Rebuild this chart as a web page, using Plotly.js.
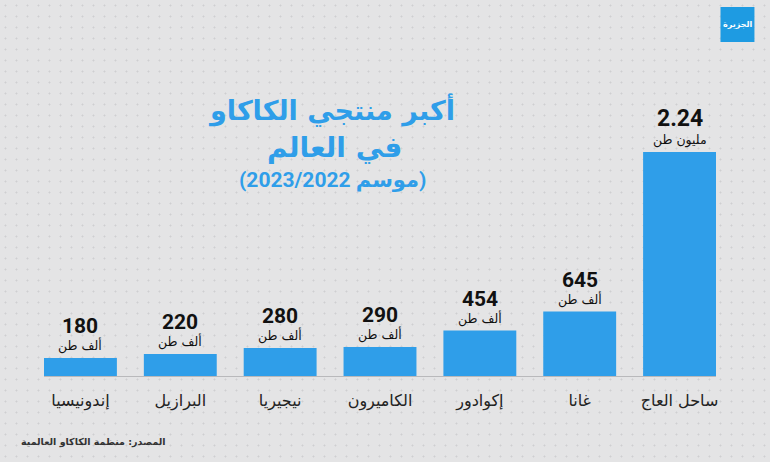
<!DOCTYPE html>
<html>
<head>
<meta charset="utf-8">
<script src="https://cdn.plot.ly/plotly-3.0.1.min.js"></script>
<style>
  html, body { margin: 0; padding: 0; }
  body {
    width: 770px; height: 462px; overflow: hidden;
    background-color: #e4e4e5;
    background-image: radial-gradient(rgba(150,150,155,0.28) 0.8px, transparent 1.2px);
    background-size: 11px 11px;
  }
  #chart { width: 770px; height: 462px; }
</style>
</head>
<body>
<div id="chart"></div>
<script>
// Data (thousand tonnes), season 2022/2023
const categories = ["إندونيسيا", "البرازيل", "نيجيريا", "الكاميرون", "إكوادور", "غانا", "ساحل العاج"];
const values = [180, 220, 280, 290, 454, 645, 2240];
const valueLabels = ["180", "220", "280", "290", "454", "645", "2.24"];
const unitLabels = ["ألف طن", "ألف طن", "ألف طن", "ألف طن", "ألف طن", "ألف طن", "مليون طن"];

const BLUE = "#2f9ee9";
const FONT = "Roboto, 'DejaVu Sans', sans-serif";

const annotations = [];
categories.forEach((c, i) => {
  annotations.push({
    x: c, y: values[i], xref: "x", yref: "y",
    text: "<b>" + valueLabels[i] + "</b>",
    showarrow: false, yanchor: "bottom", yshift: 18,
    font: { family: FONT, size: i === 6 ? 23 : 21, color: "#111" }
  });
  annotations.push({
    x: c, y: values[i], xref: "x", yref: "y",
    text: unitLabels[i],
    showarrow: false, yanchor: "bottom", yshift: 2,
    font: { family: "'DejaVu Sans', sans-serif", size: 12.5, color: "#111" }
  });
});

// Title block
annotations.push({
  xref: "paper", yref: "paper", x: (331 - 43.5) / 673, y: 1 + (100 - 110) / 276,
  text: "<b>أكبر منتجي الكاكاو</b>", showarrow: false, xanchor: "center", yanchor: "middle",
  font: { family: "'DejaVu Sans', sans-serif", size: 27, color: BLUE }
});
annotations.push({
  xref: "paper", yref: "paper", x: (334 - 43.5) / 673, y: 1 + (100 - 147) / 276,
  text: "<b>في العالم</b>", showarrow: false, xanchor: "center", yanchor: "middle",
  font: { family: "'DejaVu Sans', sans-serif", size: 28, color: BLUE }
});
annotations.push({
  xref: "paper", yref: "paper", x: (332 - 43.5) / 673, y: 1 + (100 - 180) / 276,
  text: "<b>(موسم 2023/2022)</b>", showarrow: false, xanchor: "center", yanchor: "middle",
  font: { family: FONT, size: 21, color: BLUE }
});
// Source
annotations.push({
  xref: "paper", yref: "paper", x: (18 - 43.5) / 673, y: (376 - 442) / 276,
  text: "<b>المصدر: منظمة الكاكاو العالمية</b>", showarrow: false, xanchor: "left", yanchor: "middle",
  font: { family: "'DejaVu Sans', sans-serif", size: 9.5, color: "#333" }
});
// Logo text
annotations.push({
  xref: "paper", yref: "paper", x: (738 - 43.5) / 673, y: 1 + (100 - 24) / 276,
  text: "<b>الجزيرة</b>", showarrow: false, xanchor: "center", yanchor: "middle",
  font: { family: "'DejaVu Sans', sans-serif", size: 8, color: "#ffffff" }
});

const trace = {
  type: "bar",
  x: categories,
  y: values,
  marker: { color: BLUE },
  hoverinfo: "skip"
};

const layout = {
  width: 770, height: 462,
  margin: { l: 43.5, r: 53.5, t: 100, b: 86 },
  paper_bgcolor: "rgba(0,0,0,0)",
  plot_bgcolor: "rgba(0,0,0,0)",
  bargap: 0.27,
  showlegend: false,
  xaxis: {
    type: "category",
    range: [-0.365, 6.365],
    showgrid: false, zeroline: false,
    showline: true, linecolor: "#b9b9bb", linewidth: 1,
    ticks: "", ticklabelstandoff: 10,
    tickfont: { family: "'DejaVu Sans', sans-serif", size: 16, color: "#222" },
    fixedrange: true
  },
  yaxis: {
    range: [0, 2760],
    visible: false, showgrid: false, zeroline: false,
    fixedrange: true
  },
  shapes: [{
    type: "rect", xref: "paper", yref: "paper",
    x0: (721 - 43.5) / 673, x1: (755 - 43.5) / 673,
    y0: 1 + (100 - 42) / 276, y1: 1 + (100 - 7) / 276,
    fillcolor: "#1e9be2", line: { width: 0 }
  }],
  annotations: annotations
};

Plotly.newPlot("chart", [trace], layout, { displayModeBar: false, staticPlot: true });
</script>
</body>
</html>
